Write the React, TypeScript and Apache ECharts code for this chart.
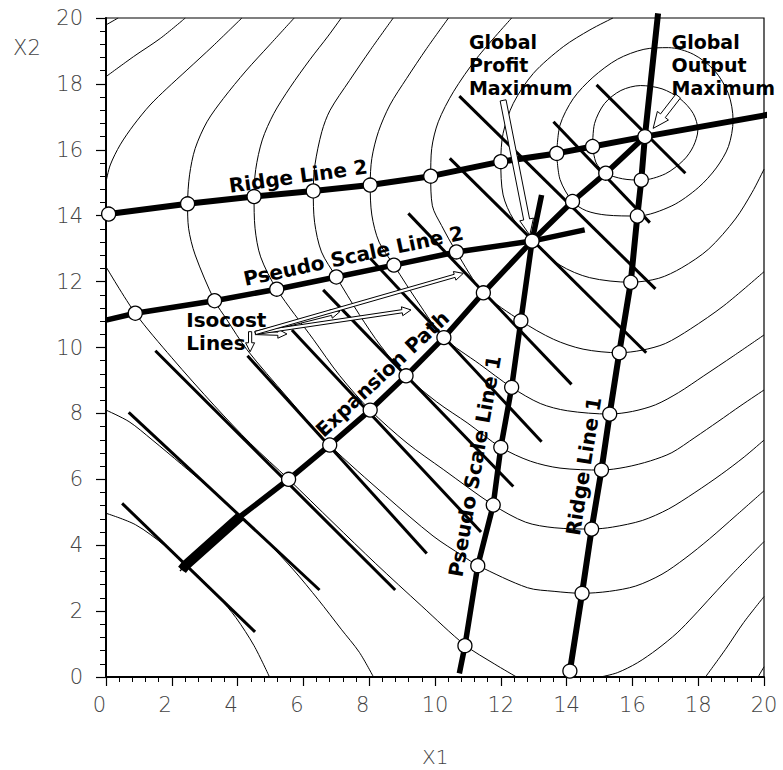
import React, { useEffect, useRef } from "react";
import * as echarts from "echarts";

// ---------- axis ----------
const AXIS_MIN = 0;
const AXIS_MAX = 20;
const AXIS_STEP = 2;

// ---------- contour (iso-output) curves, [X1, X2] ----------
const contourA1 = [[0, 19.79], [0.37, 20]];
const contourA2 = [[19.82, 0], [20, 0.31]];
const contourB1 = [[0, 18.22], [0.84, 18.83], [1.65, 19.38], [2.41, 20]];
const contourB2 = [[18.22, 0], [18.83, 0.84], [19.38, 1.65], [20, 2.44]];
const contourQ1 = [[0, 4.97], [0.9, 4.62], [1.8, 3.98], [2.43, 3.42], [2.95, 2.92], [3.45, 2.4], [3.95, 1.8], [4.5, 0.95], [4.97, 0]];
const contourQ2 = [[0, 8.1], [0.7, 7.75], [1.4, 7.2], [2.3, 6.45], [3.2, 5.68], [4.08, 4.87], [4.9, 4.1], [5.7, 3.25], [6.45, 2.35], [7.15, 1.45], [7.7, 0.75], [8.13, 0]];
const contourE9a = [[4.13, 20], [3.25, 19.15], [2.46, 18.42], [1.85, 17.86], [1.34, 17.36], [0.84, 16.75], [0.43, 16.15], [0.13, 15.54], [0, 15.03]];
const contourE9b = [[0, 12.45], [0.89, 11.04], [2.0, 9.69], [3.3, 8.23], [4.4, 7.08], [5.55, 6.0], [6.9, 4.69], [8.2, 3.44], [9.6, 2.15], [10.91, 0.97], [11.8, 0.4], [12.48, 0]];
const contourE9c = [[15.03, 0], [15.54, 0.13], [16.15, 0.43], [16.75, 0.84], [17.36, 1.34], [17.86, 1.85], [18.42, 2.46], [19.08, 3.17], [20, 4.11]];
const contourE8 = [[5.72, 20], [4.97, 19.18], [4.25, 18.39], [3.57, 17.56], [3.07, 16.85], [2.71, 16.04], [2.54, 15.24], [2.48, 14.36], [2.51, 13.62], [2.71, 12.81], [3.3, 11.42], [3.67, 10.85], [4.28, 9.94], [5.5, 8.5], [6.8, 7.04], [8.5, 5.5], [9.94, 4.28], [10.85, 3.67], [11.31, 3.38], [12.81, 2.71], [13.62, 2.6], [14.47, 2.54], [15.3, 2.6], [16.1, 2.76], [16.9, 3.12], [17.6, 3.6], [18.35, 4.2], [19.15, 4.9], [20, 5.65]];
const contourE7 = [[7.15, 20], [6.75, 19.45], [6.2, 18.74], [5.6, 17.9], [5.1, 17.1], [4.75, 16.3], [4.55, 15.4], [4.5, 14.58], [4.53, 13.62], [4.7, 12.75], [5.19, 11.77], [6.3, 10.25], [7.1, 9.15], [8.03, 8.1], [9.15, 7.1], [10.25, 6.3], [11.77, 5.22], [12.75, 4.7], [13.62, 4.53], [14.76, 4.49], [15.4, 4.55], [16.3, 4.75], [17.1, 5.1], [17.9, 5.6], [18.7, 6.15], [19.4, 6.68], [20, 7.19]];
const contourE6 = [[8.73, 20], [8.05, 19.05], [7.4, 18.1], [6.81, 17.2], [6.56, 16.55], [6.35, 15.54], [6.3, 14.75], [6.34, 13.8], [6.55, 12.9], [7.0, 12.14], [7.7, 11.0], [8.35, 10.05], [9.12, 9.14], [10.05, 8.35], [11.0, 7.7], [12.0, 6.97], [12.9, 6.55], [13.8, 6.34], [15.06, 6.28], [15.8, 6.37], [16.55, 6.56], [17.2, 6.81], [17.9, 7.27], [18.6, 7.75], [19.3, 8.24], [20, 8.71]];
const contourE5 = [[10.41, 20], [9.75, 19.08], [9.14, 18.17], [8.63, 17.36], [8.28, 16.55], [8.08, 15.74], [8.03, 14.93], [8.08, 14.02], [8.3, 13.2], [8.75, 12.5], [9.5, 11.35], [10.27, 10.3], [11.35, 9.5], [12.33, 8.79], [13.2, 8.3], [14.02, 8.08], [15.31, 7.98], [16.0, 8.06], [16.7, 8.26], [17.4, 8.63], [18.17, 9.14], [19.08, 9.75], [20, 10.38]];
const contourE4 = [[12.33, 20], [11.27, 18.78], [10.56, 17.76], [10.1, 16.85], [9.9, 16.04], [9.87, 15.2], [9.92, 14.3], [10.2, 13.7], [10.65, 12.9], [11.47, 11.66], [12.61, 10.81], [13.6, 10.25], [14.5, 9.95], [15.6, 9.84], [16.3, 9.92], [17.0, 10.12], [17.76, 10.56], [18.78, 11.27], [20, 12.3]];
const contourE3 = [[15.41, 20], [14.71, 19.64], [13.9, 19.13], [12.99, 18.32], [12.38, 17.41], [12.07, 16.5], [12.0, 15.64], [12.07, 14.63], [12.38, 13.9], [12.95, 13.23], [13.8, 12.5], [14.7, 12.12], [15.95, 11.98], [16.8, 12.1], [17.5, 12.42], [18.32, 12.99], [19.13, 13.9], [19.64, 14.71], [20, 15.41]];
const contourE2 = [[13.7, 15.89], [13.8, 16.75], [14.2, 17.55], [14.8, 18.2], [15.55, 18.75], [16.35, 19.05], [17.1, 19.1], [17.85, 18.9], [18.5, 18.4], [18.92, 17.7], [19.06, 16.9], [18.92, 16.1], [18.55, 15.45], [18.0, 14.85], [17.2, 14.3], [16.15, 13.99], [15.2, 14.02], [14.6, 14.15], [14.18, 14.43], [13.8, 15.1], [13.7, 15.89]];
const contourE1 = [[14.79, 16.1], [14.85, 16.8], [15.15, 17.4], [15.65, 17.8], [16.25, 17.95], [16.9, 17.85], [17.45, 17.55], [17.85, 17.1], [17.99, 16.6], [17.85, 16.1], [17.56, 15.69], [17.0, 15.27], [16.27, 15.08], [15.7, 15.12], [15.19, 15.29], [14.9, 15.6], [14.79, 16.1]];

// ---------- isocost lines ----------
const isocostLines = [
  [[0.49, 5.27], [4.53, 1.37]],
  [[0.69, 8.03], [6.49, 2.64]],
  [[1.5, 9.9], [8.79, 2.64]],
  [[4.3, 9.75], [9.75, 3.75]],
  [[5.65, 10.53], [11.4, 4.4]],
  [[6.6, 11.75], [12.38, 5.78]],
  [[8.03, 12.71], [13.24, 7.14]],
  [[9.19, 14.07], [14.15, 8.88]],
  [[10.45, 15.74], [16.42, 9.84]],
  [[10.74, 17.63], [16.7, 11.78]],
  [[13.6, 16.85], [16.53, 13.79]],
  [[14.91, 17.97], [17.61, 15.29]],
];

// ---------- ridge lines, pseudo scale lines, expansion path ----------
const ridge1Start = [14.1, 0.18];
const ridge1Markers = [[14.47, 2.54], [14.76, 4.49], [15.06, 6.28], [15.31, 7.98], [15.6, 9.84], [15.95, 11.98], [16.15, 13.99], [16.27, 15.08]];
const ridge1End = [16.78, 20.14];
const ridge2Start = [0, 14.03];
const ridge2Markers = [[0.08, 14.05], [2.48, 14.36], [4.5, 14.58], [6.3, 14.75], [8.03, 14.93], [9.87, 15.2], [12.0, 15.64], [13.7, 15.89], [14.79, 16.1]];
const ridge2End = [20.38, 17.11];
const outputMax = [16.38, 16.4];
const profitMax = [12.95, 13.23];
const pseudo1Start = [10.74, 0.11];
const pseudo1Markers = [[10.91, 0.95], [11.3, 3.38], [11.77, 5.22], [12.0, 6.97], [12.33, 8.79], [12.61, 10.81]];
const pseudo1End = [13.24, 14.63];
const pseudo2Start = [0, 10.83];
const pseudo2Markers = [[0.89, 11.04], [3.3, 11.42], [5.19, 11.77], [7.0, 12.14], [8.75, 12.5], [10.65, 12.9]];
const pseudo2End = [14.55, 13.57];
const expansionStart = [2.31, 3.25];
const expansionCrosses = [[2.43, 3.4], [4.08, 4.87]];
const expansionLower = [[5.55, 6.0], [6.8, 7.04], [8.03, 8.1], [9.12, 9.14], [10.27, 10.3], [11.47, 11.66]];
const expansionUpper = [[14.18, 14.43], [15.19, 15.29]];

// ---------- annotations ----------
const labelTexts = ["Ridge Line 2", "Pseudo Scale Line 2", "Isocost\nLines", "Expansion Path", "Pseudo Scale Line 1", "Ridge Line 1", "Global\nProfit\nMaximum", "Global\nOutput\nMaximum"];
const labelPos = [[5.84, 15.2], [7.52, 12.78], [2.44, 10.49], [8.4, 9.2], [11.21, 6.4], [14.52, 6.4], [11.03, 18.57], [17.19, 18.57]];
const labelAngle = [8, 12, 0, 43, 80, 81, 0, 0];
const labelAlign = ["center", "center", "left", "center", "center", "center", "left", "left"];
const labelSize = [20, 20, 20, 20, 20, 20, 19, 19];
const bigArrows = [[12.07, 17.5, 12.88, 13.41], [17.39, 17.63, 16.63, 16.65]];
const smallArrows = [[4.54, 10.44, 5.5, 10.41], [4.54, 10.44, 7.11, 11.09], [4.54, 10.44, 9.27, 11.14], [4.54, 10.44, 10.86, 12.25], [4.38, 10.48, 4.38, 9.87]];

const TICK_FONT = { fontFamily: "DejaVu Sans", fontWeight: 200 as any, fontSize: 21, color: "#444" };

function arrowSeries(data: number[][], shaftHalf: number, headHalf: number, headLen: number) {
  return {
    type: "custom",
    data,
    clip: false,
    silent: true,
    z: 6,
    encode: { x: [0, 2], y: [1, 3] },
    renderItem: (_params: any, api: any) => {
      const a = api.coord([api.value(0), api.value(1)]);
      const b = api.coord([api.value(2), api.value(3)]);
      const dx = b[0] - a[0];
      const dy = b[1] - a[1];
      const len = Math.sqrt(dx * dx + dy * dy) || 1;
      const ux = dx / len, uy = dy / len;
      const nx = -uy, ny = ux;
      const bx = b[0] - ux * headLen, by = b[1] - uy * headLen;
      const pts = [
        [a[0] + nx * shaftHalf, a[1] + ny * shaftHalf],
        [bx + nx * shaftHalf, by + ny * shaftHalf],
        [bx + nx * headHalf, by + ny * headHalf],
        [b[0], b[1]],
        [bx - nx * headHalf, by - ny * headHalf],
        [bx - nx * shaftHalf, by - ny * shaftHalf],
        [a[0] - nx * shaftHalf, a[1] - ny * shaftHalf],
      ];
      return { type: "polygon", shape: { points: pts }, style: { fill: "#fff", stroke: "#000", lineWidth: 1 } };
    },
  };
}

export default function App() {
  const ref = useRef<HTMLDivElement>(null);
  useEffect(() => {
    if (!ref.current) return;
    const chart = echarts.init(ref.current, undefined, { renderer: "svg" });

    const contours = [contourA1, contourA2, contourB1, contourB2, contourQ1, contourQ2, contourE9a, contourE9b, contourE9c, contourE8, contourE7, contourE6, contourE5, contourE4, contourE3, contourE2, contourE1];
    const contourSeries = contours.map((c) => ({
      type: "line",
      data: c,
      symbol: "none",
      smooth: 0.3,
      silent: true,
      z: 1,
      lineStyle: { color: "#000", width: 1 },
    }));
    const isocostSeries = isocostLines.map((l) => ({
      type: "line",
      data: l,
      symbol: "none",
      silent: true,
      z: 2,
      lineStyle: { color: "#000", width: 3 },
    }));
    const thick = (data: number[][], w: number) => ({
      type: "line",
      data,
      symbol: "none",
      silent: true,
      clip: false,
      z: 3,
      lineStyle: { color: "#000", width: w, cap: "butt", join: "round" },
    });

    const ridge1 = [ridge1Start, ...ridge1Markers, outputMax, ridge1End];
    const ridge2 = [ridge2Start, ...ridge2Markers, outputMax, ridge2End];
    const pseudo1 = [pseudo1Start, ...pseudo1Markers, profitMax, pseudo1End];
    const pseudo2 = [pseudo2Start, ...pseudo2Markers, profitMax, pseudo2End];
    const expansion = [expansionStart, ...expansionCrosses, ...expansionLower, profitMax, ...expansionUpper, outputMax];
    const expansionBase = [expansionStart, ...expansionCrosses];

    const circles = [
      [ridge1Start[0], ridge1Start[1]],
      ...ridge1Markers,
      ...ridge2Markers,
      ...pseudo1Markers,
      ...pseudo2Markers,
      ...expansionLower,
      ...expansionUpper,
      profitMax,
      outputMax,
    ];

    const option: any = {
      animation: false,
      backgroundColor: "#fff",
      grid: { left: 106, right: 19, top: 18, bottom: 93, show: true, borderColor: "#000", borderWidth: 1.2 },
      xAxis: {
        type: "value",
        min: AXIS_MIN,
        max: AXIS_MAX,
        interval: AXIS_STEP,
        axisLine: { show: true, onZero: false, lineStyle: { color: "#000", width: 2 } },
        axisTick: { show: true, length: 9, lineStyle: { color: "#000", width: 1.2 } },
        minorTick: { show: true, splitNumber: 5, length: 5, lineStyle: { color: "#000", width: 1 } },
        splitLine: { show: false },
        axisLabel: {
          margin: 17,
          ...TICK_FONT,
          formatter: (v: number) => (v < 10 ? `{s|${v}}` : `{n|${v}}`),
          rich: { s: { ...TICK_FONT, padding: [0, 13, 0, 0] }, n: { ...TICK_FONT } },
        },
      },
      yAxis: {
        type: "value",
        min: AXIS_MIN,
        max: AXIS_MAX,
        interval: AXIS_STEP,
        axisLine: { show: true, onZero: false, lineStyle: { color: "#000", width: 2 } },
        axisTick: { show: true, length: 10, lineStyle: { color: "#000", width: 1.2 } },
        minorTick: { show: true, splitNumber: 5, length: 6, lineStyle: { color: "#000", width: 1 } },
        splitLine: { show: false },
        axisLabel: { margin: 23, ...TICK_FONT },
      },
      graphic: [
        { type: "text", left: 13, top: 37, style: { text: "X2", font: '200 21px "DejaVu Sans"', fill: "#444" } },
        { type: "text", left: 422, top: 747, style: { text: "X1", font: '200 20px "DejaVu Sans"', fill: "#444" } },
      ],
      series: [
        ...contourSeries,
        ...isocostSeries,
        thick(ridge1, 6),
        thick(ridge2, 6),
        thick(pseudo1, 5.5),
        thick(pseudo2, 5.5),
        thick(expansion, 5.5),
        thick(expansionBase, 10),
        arrowSeries(bigArrows, 3, 7, 16),
        arrowSeries(smallArrows, 1.6, 4.5, 9),
        {
          type: "scatter",
          data: circles,
          symbol: "circle",
          symbolSize: 14,
          silent: true,
          z: 7,
          itemStyle: { color: "#fff", borderColor: "#000", borderWidth: 1.3, opacity: 1 },
        },
        {
          type: "custom",
          data: expansionCrosses,
          silent: true,
          z: 7,
          renderItem: (_p: any, api: any) => {
            const c = api.coord([api.value(0), api.value(1)]);
            const h = 6;
            return {
              type: "group",
              children: [
                { type: "line", shape: { x1: c[0] - h, y1: c[1] - h, x2: c[0] + h, y2: c[1] + h }, style: { stroke: "#000", lineWidth: 1.2 } },
                { type: "line", shape: { x1: c[0] - h, y1: c[1] + h, x2: c[0] + h, y2: c[1] - h }, style: { stroke: "#000", lineWidth: 1.2 } },
              ],
            };
          },
        },
        {
          type: "custom",
          data: labelPos,
          silent: true,
          clip: false,
          z: 8,
          renderItem: (params: any, api: any) => {
            const i = params.dataIndex;
            const p = api.coord([api.value(0), api.value(1)]);
            return {
              type: "text",
              x: p[0],
              y: p[1],
              rotation: (labelAngle[i] * Math.PI) / 180,
              style: {
                text: labelTexts[i],
                font: `bold ${labelSize[i]}px "DejaVu Sans"`,
                fill: "#000",
                align: labelAlign[i],
                verticalAlign: "middle",
                lineHeight: 23,
              },
            };
          },
        },
      ],
    };
    chart.setOption(option);
    return () => chart.dispose();
  }, []);
  return <div ref={ref} style={{ position: "fixed", left: 0, top: 0, width: 783, height: 770, background: "#fff" }} />;
}
